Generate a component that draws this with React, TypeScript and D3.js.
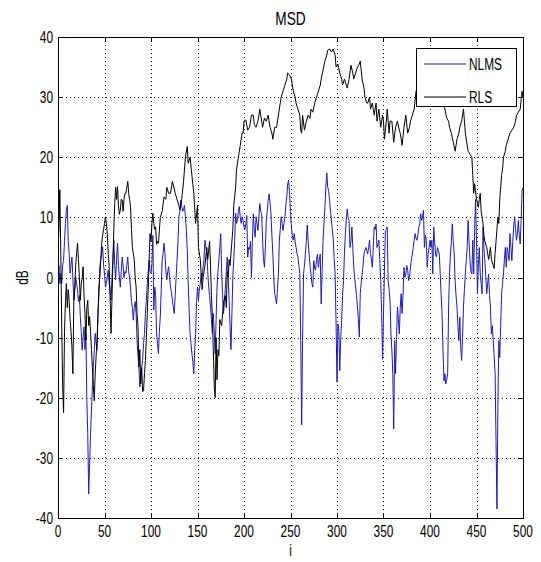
import React from 'react';
import * as d3 from 'd3';

// values: [i, dB]
const nlms: [number, number][] = [
  [0,-2],[1,2],[2,-1],[3,0.7],[4,-1],[5,2],[6,3],[7,6],[8,9],[9,11.2],[10,12],[11,6.2],[12,4],[13,0.7],[14,2],[15,3.4],[16,0],[17,-3.8],[18,-2],[19,0.1],
  [20,-1],[21,-2],[22,-4],[23,-3],[24,-6.5],[25,-9],[26,-12.1],[27,-10],[28,-8.2],[29,-12],[30,-9.3],[31,-20.4],[32,-26],[33,-36],[34,-31],[35,-26],[36,-22],[37,-18],[38,-14.9],[39,-12],
  [40,-9.3],[41,-11],[42,-12.1],[43,-6],[44,-3],[45,1.8],[46,3],[47,4],[48,5.1],[49,2],[50,0.7],[51,-1.6],[52,-1],[53,0],[54,1.2],[55,-1],[56,-2],[57,-3.8],[58,0],[59,3],
  [60,6.2],[61,2],[62,-0.4],[63,3],[64,5.7],[65,2],[66,0],[67,-1.6],[68,1],[69,3.4],[70,2],[71,0],[72,1],[73,0.7],[74,2],[75,3.4],[76,1],[77,0],[78,-1.6],[79,-4],
  [80,-5],[81,-7.1],[82,-5],[83,-4],[84,-6],[85,-10.4],[86,-13],[87,-15],[88,-18.2],[89,-16],[90,-15],[91,-13.8],[92,-11],[93,-9.3],[94,-6],[95,-3.8],[96,-1],[97,1],[98,2.9],[99,1],
  [100,0.7],[101,2.3],[102,7],[103,-5.4],[104,-1.6],[105,-3],[106,-9.3],[107,-11],[108,-12.7],[109,-9],[110,-6.5],[111,-2],[112,2.9],[113,4],[114,5.7],[115,4],[116,1],[117,-0.4],[118,1],[119,1.8],
  [120,0],[121,-1.6],[122,-2.5],[123,-3.8],[124,-5],[125,-6],[126,-3],[127,0],[128,2.9],[129,6],[130,10.1],[131,11],[132,12.9],[133,12],[134,11],[135,11.2],[136,12],[137,10.1],[138,8],[139,4.6],
  [140,-1],[141,-5.4],[142,-9.3],[143,-11],[144,-12.7],[145,-14],[146,-16],[147,-12],[148,-9.3],[149,-4],[150,-1.6],[151,-3.8],[152,-2],[153,-1],[154,0.7],[155,0],[156,1.8],[157,3],[158,6.2],[159,5],
  [160,4],[161,1],[162,-1.6],[163,-3],[164,-4.9],[165,-7],[166,-9.3],[167,-6],[168,-9],[169,-12.7],[170,-7],[171,-1.6],[172,1],[173,2.9],[174,5],[175,7.3],[176,0.7],[177,-3],[178,-6],[179,-4],
  [180,-1.6],[181,1],[182,3.4],[183,0],[184,-3.8],[185,-8],[186,-12],[187,-6],[188,0.1],[189,3],[190,6.2],[191,10.7],[192,9],[193,9.6],[194,11],[195,11.8],[196,10],[197,9],[198,10.1],[199,9.5],
  [200,8.4],[201,8],[202,9],[203,10.3],[204,3.4],[205,5],[206,4.7],[207,6],[208,0],[209,6],[210,10.6],[211,8],[212,6.7],[213,10.1],[214,9],[215,7.8],[216,10],[217,12.3],[218,11],[219,10.6],
  [220,6.2],[221,3],[222,1.7],[223,5],[224,9.5],[225,11],[226,12.8],[227,13.9],[228,12.5],[229,10.6],[230,7],[231,3.9],[232,0],[233,-2.7],[234,-3.5],[235,-4.4],[236,-2],[237,0.6],[238,6.2],[239,8],
  [240,10.1],[241,9],[242,7.8],[243,9],[244,10.1],[245,12],[246,13.4],[247,15.6],[248,16.2],[249,13.9],[250,11],[251,8.4],[252,7],[253,6.2],[254,7.3],[255,6],[256,5],[257,4],[258,3.4],[259,2],
  [260,0.6],[261,-10.5],[262,-24.5],[263,-10.5],[264,0.6],[265,2],[266,3.9],[267,6],[268,8.7],[269,6],[270,3.9],[271,2],[272,0.6],[273,-1],[274,-1.6],[275,2.8],[276,1.5],[277,1.2],[278,3],[279,3.9],
  [280,1.7],[281,3],[282,3.9],[283,-4.4],[284,1],[285,6.2],[286,9],[287,11.7],[288,15],[289,17.4],[290,15],[291,14.5],[292,12.8],[293,11],[294,9.5],[295,8],[296,6.2],[297,3],[298,0.6],[299,-7.7],
  [300,-17.4],[301,-7.7],[302,-8.8],[303,-15.5],[304,-10],[305,-7.2],[306,-3],[307,-0.5],[308,4],[309,7.3],[310,9.5],[311,11.4],[312,10],[313,9.5],[314,5],[315,6],[316,8.4],[317,5],[318,1.7],[319,0],
  [320,-1.6],[321,-3],[322,-4.9],[323,-7],[324,-9.9],[325,-2.7],[326,-1],[327,0.6],[328,2],[329,3.9],[330,4.5],[331,5],[332,4.5],[333,3.9],[334,5],[335,6.2],[336,4],[337,3],[338,1.7],[339,5],
  [340,8.4],[341,8],[342,8.9],[343,5],[344,5.5],[345,6.2],[346,3],[347,-0.5],[348,-6],[349,-13.6],[350,-6],[351,1],[352,7.8],[353,8],[354,8.4],[355,-0.5],[356,-2],[357,-3.8],[358,-9.4],[359,-12],
  [360,-16],[361,-25.2],[362,-10.5],[363,-16],[364,-10],[365,-4.9],[366,-7],[367,-9.4],[368,-5],[369,-2.7],[370,-6],[371,-3],[372,1.7],[373,0],[374,0.6],[375,2],[376,1.2],[377,-0.5],[378,0],[379,1.7],
  [380,3],[381,3.9],[382,5],[383,6.2],[384,7.3],[385,6.5],[386,6.2],[387,7],[388,8.4],[389,9],[390,10.6],[391,9.5],[392,10],[393,11.2],[394,5],[395,7],[396,6.2],[397,1.7],[398,3.9],[399,5],
  [400,6.2],[401,5],[402,6.2],[403,0.6],[404,8.4],[405,6],[406,3.9],[407,3.4],[408,5],[409,4.5],[410,3.9],[411,0.6],[412,-3],[413,-6],[414,-12.2],[415,-17.2],[416,-16],[417,-17.7],[418,-17],[419,-16],
  [420,-4.9],[421,0.6],[422,3.9],[423,6],[424,8.9],[425,6],[426,3.9],[427,-0.5],[428,-3],[429,-4.9],[430,-8],[431,-10.5],[432,-6.6],[433,-11.6],[434,-13.8],[435,-10],[436,-4.9],[437,-2],[438,0.6],[439,3],
  [440,5],[441,9.5],[442,6],[443,2.8],[444,1],[445,0.6],[446,6.2],[447,0.6],[448,8],[449,13],[450,6.2],[451,-2.7],[452,2],[453,5],[454,0.6],[455,-1],[456,-2.7],[457,8.4],[458,5],[459,2.8],
  [460,0],[461,-2.7],[462,-1],[463,0.6],[464,-3],[465,-4.9],[466,-9.4],[467,-8],[468,-10.5],[469,-13],[470,-16],[471,-27.2],[472,-38.5],[473,-21.6],[474,-10.5],[475,-13.3],[476,-8],[477,-2.7],[478,-1],[479,0.6],
  [480,3],[481,5],[482,1.7],[483,5],[484,4],[485,2.8],[486,7.3],[487,5],[488,2.8],[489,6],[490,8.4],[491,10.1],[492,8],[493,6.2],[494,7.3],[495,9.5],[496,7],[497,5.6],[498,9.5],[499,14.5],[500,15],
];

const rls: [number, number][] = [
  [0,5],[1,8],[2,14.6],[3,4],[4,-8],[5,-18],[6,-22.5],[7,-9],[8,-4],[9,-1],[10,-5],[11,-2],[12,-4],[13,-7],[14,-9],[15,-11.6],[16,-16],[17,-4],[18,-2],[19,2],
  [20,4],[21,5.7],[22,3],[23,0],[24,-3.8],[25,-1],[26,0],[27,1.8],[28,-3],[29,-6],[30,-10.4],[31,-5],[32,-3.8],[33,-8],[34,-6.5],[35,-9],[36,-12],[37,-15],[38,-18],[39,-20.5],
  [40,-16],[41,-13],[42,-10.4],[43,-6],[44,-1.6],[45,0],[46,3],[47,5.7],[48,7],[49,8],[50,9],[51,10.1],[52,9],[53,7.3],[54,4],[55,1.8],[56,-3],[57,-9.3],[58,-3.8],[59,2],
  [60,8],[61,12.3],[62,15],[63,13],[64,15.1],[65,12],[66,10.5],[67,11.2],[68,13],[69,12.9],[70,11],[71,13],[72,14],[73,14],[74,15],[75,16],[76,14],[77,13],[78,11.8],[79,8],
  [80,5],[81,4],[82,2.9],[83,0],[84,-1.6],[85,-6],[86,-8],[87,-14.9],[88,-12],[89,-17.7],[90,-15],[91,-19],[92,-18.8],[93,-16],[94,-13.8],[95,-10],[96,-6],[97,-2],[98,3],[99,7.3],
  [100,6],[101,9],[102,10.7],[103,9],[104,8],[105,8.4],[106,5.5],[107,6],[108,5.7],[110,10],[112,11],[114,13.4],[116,13],[117,15],[119,14],[121,14],[123,16],[124,15.4],[126,14],[128,13],
  [130,12],[131,11.2],[133,13],[135,16],[137,20],[139,21.8],[140,19],[142,20],[144,17],[146,14],[148,9],[150,12],[151,5],[153,3],[155,-2],[156,0],[158,2],[160,5],[161,3],[163,6],
  [164,2],[165,-3],[166,-6.5],[167,-12],[168,-18],[169,-20],[170,-10],[171,-17],[172,-12],[173,-13],[174,-7],[176,-8],[178,-4],[180,-3],[181,-5],[182,1],[183,0],[184,3],[185,2],[187,6],
  [188,8],[189,12],[191,15],[192,18],[194,20],[196,22],[198,24],[199,24],[200,26],[202,26.2],[204,24.5],[206,25],[208,27],[210,27],[211,25.5],[213,25],[215,26],[217,28],[219,26],[220,25],
  [222,26.5],[224,26],[226,27],[228,25],[230,24],[231,23],[233,25],[235,25],[237,27],[238,28],[240,30],[242,31],[244,32],[246,33],[247,34],[249,33.7],[251,33],[253,31],[255,30],[256,29],
  [258,28],[260,27],[261,24.5],[262,24],[263,27],[265,24.5],[267,26],[269,27],[271,26.5],[272,28],[274,27.5],[276,29],[278,30],[280,31],[282,32],[283,33],[285,34.5],[287,36],[289,37],[290,37.8],
  [292,38],[294,37.5],[296,38],[298,37],[299,35],[301,35.5],[303,34],[305,33],[306,32],[308,33],[310,32],[311,31.5],[313,33],[315,35.3],[317,34],[318,33],[320,34],[322,35],[324,35.5],[325,36],
  [327,33],[329,31.5],[330,30],[332,29],[333,29],[335,30],[336,28],[338,29],[340,27],[342,29],[343,26],[345,28],[347,25],[349,27],[350,26],[351,23],[353,26],[354,28],[356,24],[357,26],
  [359,26],[361,22.5],[363,25],[365,26],[367,24.5],[368,24],[370,22],[372,25],[374,27],[376,24],[378,25],[379,26],[381,27],[383,28],[385,31],[388,32],[392,33],[396,32],[400,33],[404,31],
  [408,32],[412,30],[414,29],[416,28],[418,26.5],[420,26],[421,25],[423,24],[425,22.5],[427,21],[429,23],[431,24],[432,25],[434,26],[436,28],[437,26],[438,24],[440,22],[441,21],[443,20.5],
  [445,20],[446,17],[447,14],[448,15.6],[450,13],[452,11.7],[453,13],[454,14],[455,11],[457,9],[458,7],[459,6],[461,5],[463,3],[464,4],[465,5],[466,3],[468,2],[469,1.5],[470,4],
  [471,6],[472,8],[473,10],[474,9],[475,13],[477,17],[478,18],[479,20],[481,21],[482,22],[484,23],[486,24],[488,24.5],[490,25],[492,26],[493,27],[495,27.5],[497,28],[499,31],[500,30],
];

const xTicks = [0, 50, 100, 150, 200, 250, 300, 350, 400, 450, 500];
const yTicks = [-40, -30, -20, -10, 0, 10, 20, 30, 40];
const seriesNames = ['NLMS', 'RLS'];
const seriesColors = ['#1c1cb4', '#000000'];

const W = 541;
const H = 562;
const left = 58, right = 523, top = 37, bottom = 518;
const FONT = '"Liberation Sans", Arial, sans-serif';
const SX = 0.72;

const Label = ({ x, y, anchor = 'start', size = 16.5, children, rotate = 0 }: any) => (
  <text
    transform={`translate(${x},${y}) rotate(${rotate}) scale(${SX},1)`}
    textAnchor={anchor}
    fontFamily={FONT}
    fontSize={size}
    fill="#000"
  >
    {children}
  </text>
);

export default function App() {
  const x = d3.scaleLinear().domain([0, 500]).range([left, right]);
  const y = d3.scaleLinear().domain([-40, 40]).range([bottom, top]);
  const line = d3.line<[number, number]>().x(d => x(d[0])).y(d => y(d[1]));
  const tk = 5;

  return (
    <div style={{ position: 'absolute', left: 0, top: 0 }}>
      <svg width={W} height={H} style={{ display: 'block', background: '#fff' }}>
        <defs>
          <clipPath id="plot">
            <rect x={left} y={top} width={right - left} height={bottom - top} />
          </clipPath>
        </defs>
        <rect x={0} y={0} width={W} height={H} fill="#fff" />

        {/* dotted grid */}
        <g stroke="#222" strokeWidth={1} strokeDasharray="1,3" shapeRendering="crispEdges">
          {xTicks.slice(1, -1).map(t => (
            <line key={'gx' + t} x1={Math.round(x(t)) + 0.5} x2={Math.round(x(t)) + 0.5} y1={top} y2={bottom} />
          ))}
          {yTicks.slice(1, -1).map(t => (
            <line key={'gy' + t} x1={left} x2={right} y1={Math.round(y(t)) + 0.5} y2={Math.round(y(t)) + 0.5} />
          ))}
        </g>

        {/* series */}
        <g clipPath="url(#plot)" fill="none" strokeWidth={1} strokeLinejoin="round">
          <path d={line(nlms) || ''} stroke={seriesColors[0]} />
          <path d={line(rls) || ''} stroke={seriesColors[1]} />
        </g>

        {/* box and ticks */}
        <g stroke="#000" strokeWidth={1} shapeRendering="crispEdges">
          <rect x={left + 0.5} y={top + 0.5} width={right - left} height={bottom - top} fill="none" />
          {xTicks.map(t => {
            const px = Math.round(x(t)) + 0.5;
            return (
              <g key={'tx' + t}>
                <line x1={px} x2={px} y1={bottom} y2={bottom - tk} />
                <line x1={px} x2={px} y1={top} y2={top + tk} />
              </g>
            );
          })}
          {yTicks.map(t => {
            const py = Math.round(y(t)) + 0.5;
            return (
              <g key={'ty' + t}>
                <line x1={left} x2={left + tk} y1={py} y2={py} />
                <line x1={right} x2={right - tk} y1={py} y2={py} />
              </g>
            );
          })}
        </g>

        {/* tick labels */}
        {xTicks.map(t => (
          <Label key={'lx' + t} x={x(t)} y={bottom + 19} anchor="middle">{t}</Label>
        ))}
        {yTicks.map(t => (
          <Label key={'ly' + t} x={left - 5} y={y(t) + 6} anchor="end">{t}</Label>
        ))}

        {/* titles */}
        <Label x={(left + right) / 2} y={25} anchor="middle" size={19}>MSD</Label>
        <Label x={(left + right) / 2} y={556} anchor="middle">i</Label>
        <Label x={28} y={(top + bottom) / 2} anchor="middle" rotate={-90}>dB</Label>

        {/* legend */}
        <g>
          <rect x={416.5} y={48.5} width={100} height={58} fill="#fff" stroke="#000" strokeWidth={1} shapeRendering="crispEdges" />
          {seriesNames.map((n, i) => {
            const ly = 64 + i * 33;
            return (
              <g key={n}>
                <line x1={424} x2={466} y1={ly} y2={ly} stroke={seriesColors[i]} strokeWidth={1} />
                <Label x={469} y={ly + 6}>{n}</Label>
              </g>
            );
          })}
        </g>
      </svg>
    </div>
  );
}
